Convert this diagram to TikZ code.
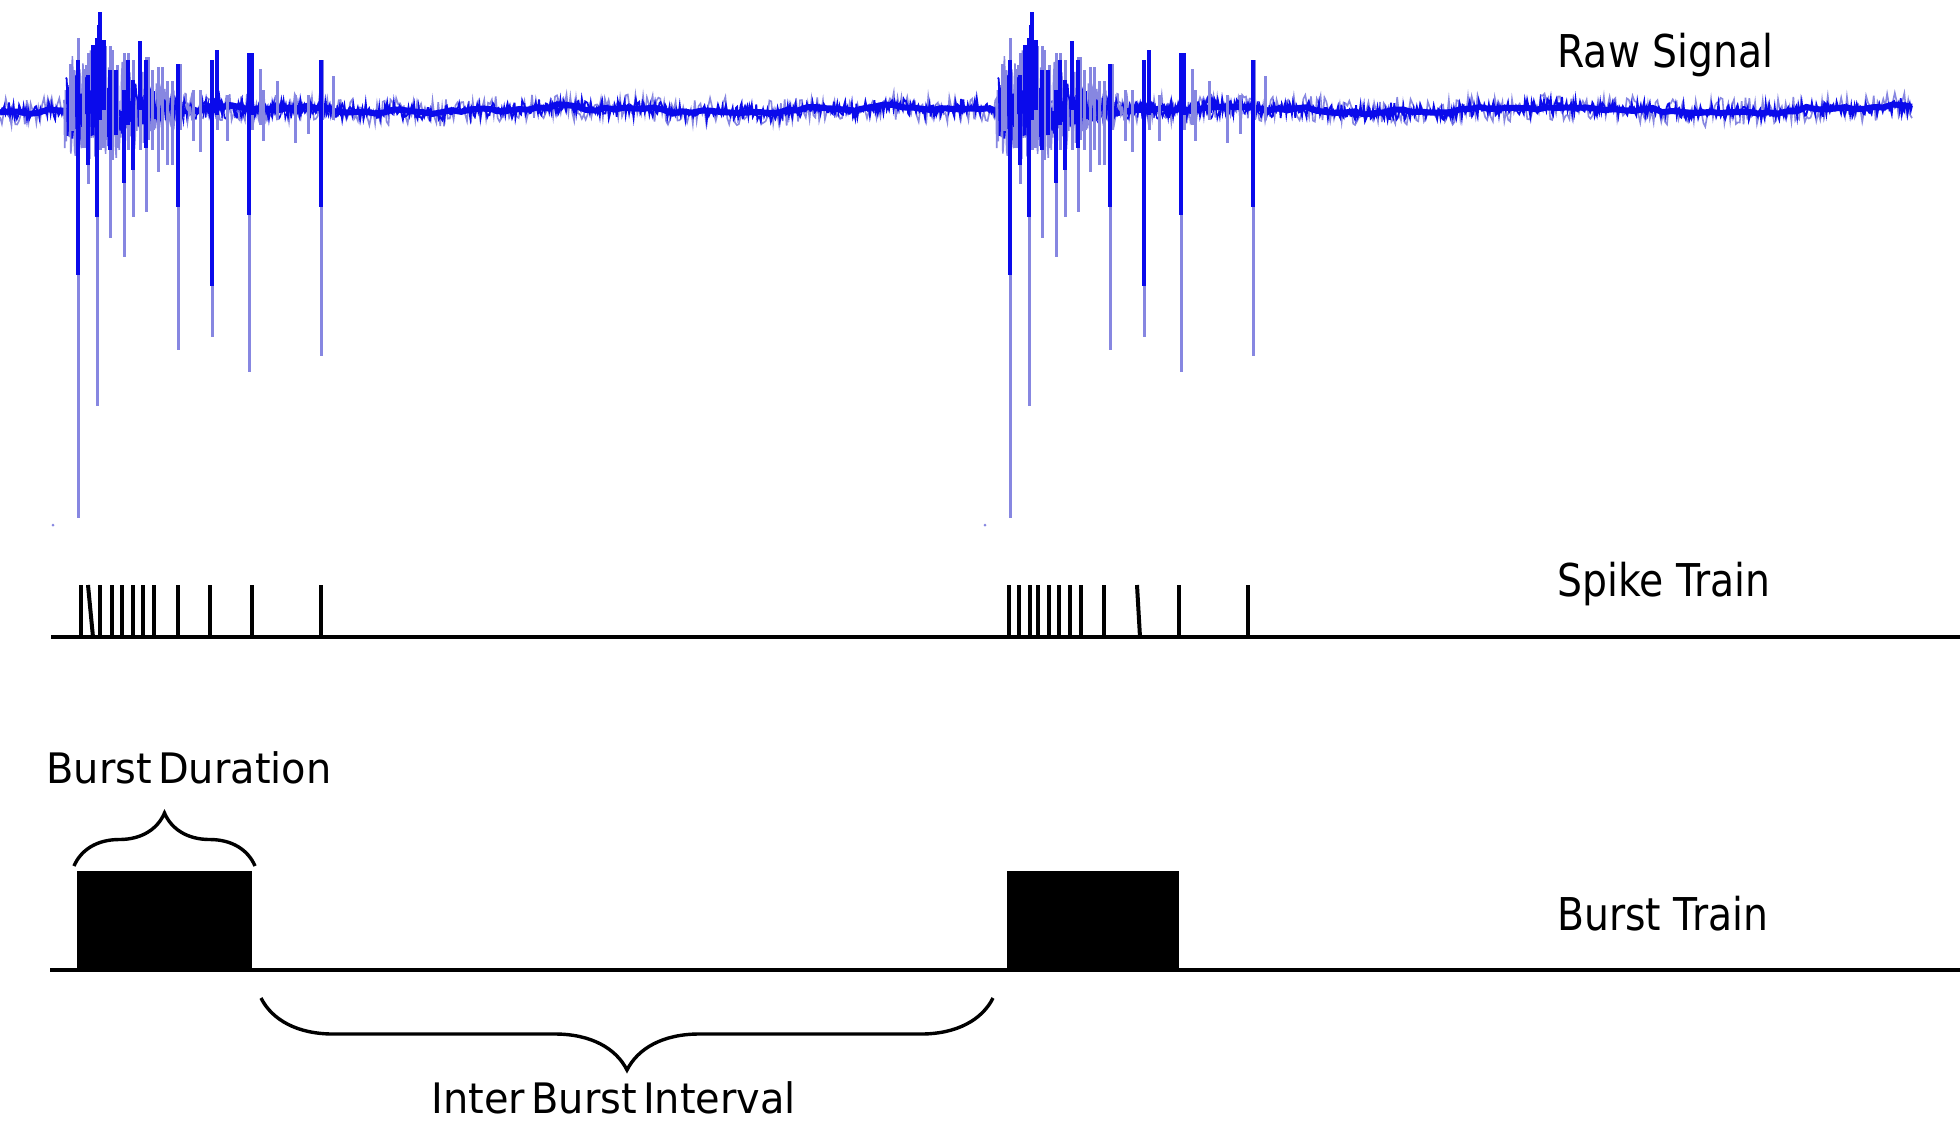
\documentclass[tikz,border=0pt]{standalone}
\usepackage{fontspec}
\newfontfamily\labfont[FakeStretch=0.87]{DejaVu Sans}
\newfontfamily\annfont[FakeStretch=0.95,WordSpace=0.5]{DejaVu Sans}
\usetikzlibrary{decorations.pathreplacing}
\definecolor{sigdark}{RGB}{10,10,235}
\definecolor{siglight}{RGB}{135,135,225}

\newcommand\drawburst{%
  \pgfmathsetseed{321}%
  \draw[siglight, line width=0.8pt] plot[domain=64:192, samples=170] (\x, {108 + (52*exp(-((\x-97)^2)/3200)+10)*rand});
  \draw[sigdark, line width=0.9pt] plot[domain=66:185, samples=150] (\x, {108 + (34*exp(-((\x-97)^2)/2500)+8)*rand});
  \draw[sigdark, line width=0.6pt] plot[domain=190:345, samples=180] (\x, {110 + 9*rand});
  \foreach \x/\a/\b in {70/64/131, 73/70/131, 78/38/518, 83/69/148, 88/53/184, 97/40/406, 100/12/150, 103/46/148, 105/46/140, 110/46/238, 112/50/160, 117/65/148, 124/53/257, 128/53/150, 133/60/217, 140/41/150, 146/57/212, 148/57/140, 152/70/150, 158/67/172, 162/67/150, 167/81/165, 172/81/165, 178/64/350, 180/64/130, 193/90/141, 200/90/152, 212/80/337, 217/50/130, 227/95/141, 249/53/372, 252/53/130, 260/69/125, 263/90/141, 277/81/120, 295/95/143, 308/95/134, 321/60/356, 322/60/120, 333/76/120}
    \draw[sl] (\x,\a) -- (\x,\b);
  \foreach \x/\a/\b in {78/60/275, 97/38/217, 100/12/120, 99/25/100, 104/40/110, 124/90/183, 146/60/148, 178/64/207, 212/60/286, 217/50/115, 249/53/215, 252/53/115, 321/60/207, 88/75/165, 133/80/170, 140/41/110, 110/70/150, 93/45/120, 116/70/135, 128/60/125}
    \draw[sd] (\x,\a) -- (\x,\b);
}

\begin{document}
\begin{tikzpicture}[x=0.5pt,y=-0.5pt,
  trainline/.style={line width=2pt},
  tickline/.style={line width=2pt},
  lbl/.style={anchor=base west, inner sep=0pt, font=\labfont\fontsize{22.6}{26}\selectfont},
  ann/.style={anchor=base west, inner sep=0pt, font=\annfont\fontsize{21}{25}\selectfont},
  bracedec/.style={decorate, decoration={brace, amplitude=#1}, line width=1.7pt},
  sl/.style={siglight, line width=1.5pt},
  sd/.style={sigdark, line width=1.8pt},
]
\fill[white] (0,0) rectangle (1960,1121);
\useasboundingbox (0,0) rectangle (1960,1121);

% raw signal baseline noise
\pgfmathsetseed{12}
\draw[siglight, line width=0.8pt] plot[domain=0:1912, samples=1000]
  (\x, {110 + 14*rand + 2.5*sin(\x*1.1) + 1.5*sin(\x*4.3+30)});
\draw[sigdark, line width=0.9pt] plot[domain=0:1912, samples=1700]
  (\x, {110 + 6*rand + 4*rand + 2.5*sin(\x*1.1) + 1.5*sin(\x*4.3+30)});
\draw[sigdark, line width=3pt] plot[domain=0:1912, samples=200]
  (\x, {110 + 2*rand + 2.5*sin(\x*1.1) + 1.5*sin(\x*4.3+30)});

% bursts in raw signal
\drawburst
\begin{scope}[shift={(932,0)}]
  \drawburst
\end{scope}
\fill[siglight] (53,525) circle (1.5);
\fill[siglight] (985,525) circle (1.5);

% spike train
\draw[trainline] (51,637) -- (1960,637);
\foreach \x in {81,100,112,122,133,143,154,178,210,252,321,1009,1019,1030,1038,1049,1059,1070,1081,1104,1179,1248}
  \draw[tickline] (\x,585) -- (\x,637);
\draw[tickline] (88,585) -- (93,637);
\draw[tickline] (1137,585) -- (1140,637);

% burst train
\draw[trainline] (50,970) -- (1960,970);
\fill[black] (77,871) rectangle (252,970);
\fill[black] (1007,871) rectangle (1179,970);

% braces
\coordinate (bdl) at (74,866);
\coordinate (bdr) at (255,866);
\coordinate (ibl) at (261,998);
\coordinate (ibr) at (993,998);
\draw[bracedec=26.5pt] (bdl) -- (bdr);
\draw[bracedec=36pt] (ibr) -- (ibl);

% labels
\node[lbl] (rawlbl) at (1557,67) {Raw Signal};
\node[lbl] (spikelbl) at (1557,596) {Spike Train};
\node[lbl] (burstlbl) at (1557,930) {Burst Train};
\node[ann] (bdlbl) at (46,783) {Burst Duration};
\node[ann] (ibilbl) at (431,1113) {Inter Burst Interval};
\end{tikzpicture}
\end{document}
